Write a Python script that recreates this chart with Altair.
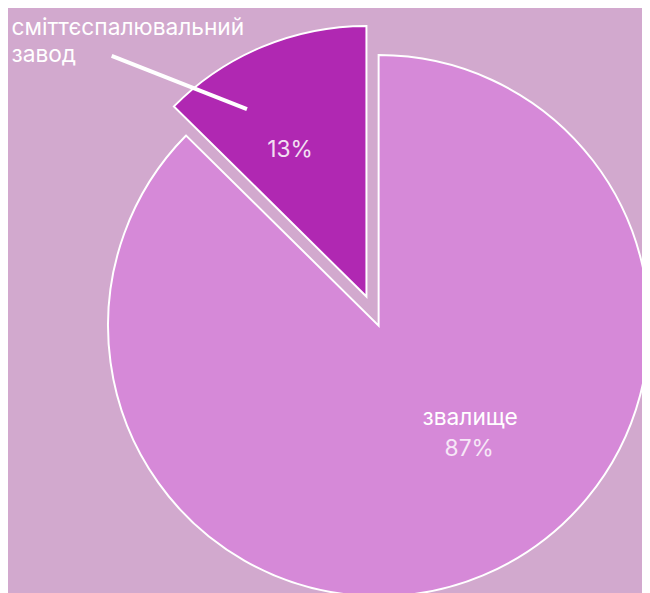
import altair as alt
import pandas as pd

categories = ["звалище", "сміттєспалювальний завод"]
shares = [87.4, 12.6]
colors = ["#D689D8", "#B028B2"]

df = pd.DataFrame({"cat": categories, "share": shares, "color": colors, "order": [0, 1]})

CX, CY, R, EXPLODE = 375.3, 318, 274, 32
BG = "#D2A9CE"
FONT = "Inter"
FS = 23

base = alt.Chart(df).transform_joinaggregate(
    total="sum(share)"
).transform_window(
    cum="sum(share)", sort=[alt.SortField("order")]
).transform_calculate(
    t0="2*PI*(datum.cum - datum.share)/datum.total",
    t1="2*PI*datum.cum/datum.total",
).transform_calculate(
    mid="(datum.t0 + datum.t1)/2",
    ex=f"datum.order == 1 ? {EXPLODE} : 0",
).transform_calculate(
    px=f"{CX} + datum.ex*sin(datum.mid)",
    py=f"{CY} - datum.ex*cos(datum.mid)",
)

arcs = base.mark_arc(radius=R, stroke="white", strokeWidth=2).encode(
    theta=alt.Theta("t0:Q", scale=None),
    theta2="t1:Q",
    x=alt.X("px:Q", scale=None),
    y=alt.Y("py:Q", scale=None),
    color=alt.Color("color:N", scale=None),
)

pct = alt.Chart(df).transform_calculate(
    label="format(datum.share, '.0f') + '%'"
)

pct_small = pct.transform_filter(alt.datum.cat == categories[1]).mark_text(
    font=FONT, fontSize=FS, color="white", opacity=0.85, align="center", baseline="alphabetic"
).encode(text="label:N", x=alt.value(285.5), y=alt.value(147))

pct_big = pct.transform_filter(alt.datum.cat == categories[0]).mark_text(
    font=FONT, fontSize=FS, color="white", opacity=0.8, align="center", baseline="alphabetic"
).encode(text="label:N", x=alt.value(467), y=alt.value(450))

name_big = alt.Chart(df).transform_filter(alt.datum.cat == categories[0]).mark_text(
    font=FONT, fontSize=FS, color="white", align="center", baseline="alphabetic"
).encode(text="cat:N", x=alt.value(468), y=alt.value(419))

name_small = alt.Chart(df).transform_filter(alt.datum.cat == categories[1]).mark_text(
    font=FONT, fontSize=FS, color="white", align="left", baseline="alphabetic", lineHeight=28
).transform_calculate(
    lbl="split(datum.cat, ' ')"
).encode(text="lbl:N", x=alt.value(3.5), y=alt.value(23.5))

leader = alt.Chart(df).transform_filter(alt.datum.cat == categories[1]).mark_rule(
    color="white", strokeWidth=4
).encode(x=alt.value(105), y=alt.value(44.7), x2=alt.value(242), y2=alt.value(98.7))

chart = alt.layer(arcs, leader, pct_small, pct_big, name_big, name_small).properties(
    width=642, height=585, padding=0, autosize="none", background=BG
).configure_view(stroke=None, clip=False)

chart.save("out.html", embed_options={"renderer": "svg", "actions": False})
